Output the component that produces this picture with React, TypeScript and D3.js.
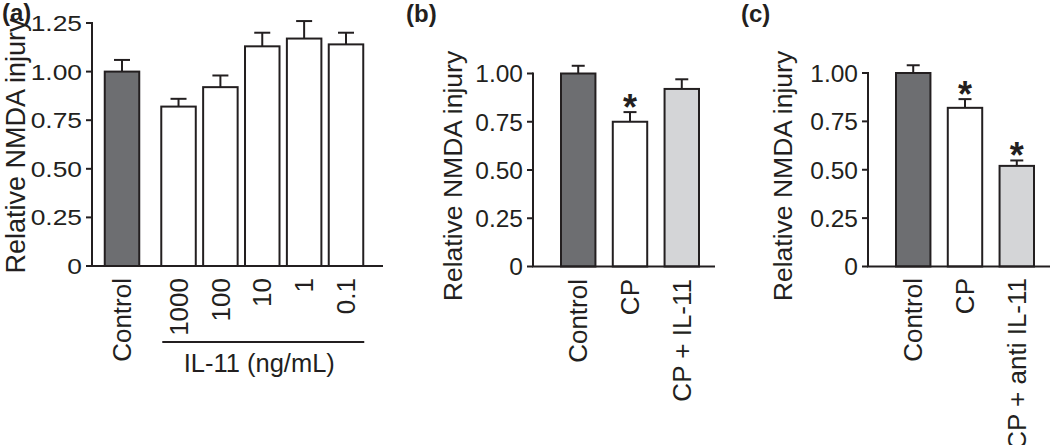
import React from "react";
import * as d3 from "d3";

// ---------- DATA ----------
const panelACategories = ["Control", "1000", "100", "10", "1", "0.1"];
const panelAValues = [1.0, 0.82, 0.92, 1.13, 1.17, 1.14];
const panelAErrors = [0.06, 0.04, 0.06, 0.07, 0.09, 0.06];
const panelAFills = ["dark", "white", "white", "white", "white", "white"];
const panelATicks = [0, 0.25, 0.5, 0.75, 1.0, 1.25];
const panelATickLabels = ["0", "0.25", "0.50", "0.75", "1.00", "1.25"];
const panelAGroupLabel = "IL-11 (ng/mL)";

const panelBCategories = ["Control", "CP", "CP + IL-11"];
const panelBValues = [1.0, 0.75, 0.92];
const panelBErrors = [0.04, 0.05, 0.05];
const panelBFills = ["dark", "white", "light"];
const panelBSignificant = [false, true, false];

const panelCCategories = ["Control", "CP", "CP + anti IL-11"];
const panelCValues = [1.0, 0.82, 0.52];
const panelCErrors = [0.04, 0.045, 0.028];
const panelCFills = ["dark", "white", "light"];
const panelCSignificant = [false, true, true];

const panelBCTicks = [0, 0.25, 0.5, 0.75, 1.0];
const panelBCTickLabels = ["0", "0.25", "0.50", "0.75", "1.00"];

const yTitle = "Relative NMDA injury";

// ---------- STYLE ----------
const FONT = "'Liberation Sans', Arial, Helvetica, sans-serif";
const TEXT = "#231f20";
const FILLS: Record<string, string> = {
  dark: "#6d6e71",
  white: "#ffffff",
  light: "#d4d5d7",
};

type PanelProps = {
  letter: string;
  letterX: number;
  letterY: number;
  axisX: number;
  axisEnd: number;
  y0: number;
  yTopPx: number;
  yMax: number;
  ticks: number[];
  tickLabels: string[];
  tickFont: number;
  tickScaleX: number;
  categories: string[];
  values: number[];
  errors: number[];
  fills: string[];
  significant?: boolean[];
  xPos: (i: number) => number;
  barWidth: number;
  capHalf: number;
  catFont: number;
  catY: number;
  titleX: number;
  titleY: number;
  titleFont: number;
  extra?: React.ReactNode;
};

function Panel(p: PanelProps) {
  const y = d3.scaleLinear().domain([0, p.yMax]).range([p.y0, p.yTopPx]);
  return (
    <g>
      <text
        x={p.letterX}
        y={p.letterY}
        fontFamily={FONT}
        fontWeight="bold"
        fontSize={24}
        fill={TEXT}
      >
        {p.letter}
      </text>
      <text
        transform={`translate(${p.titleX},${p.titleY}) rotate(-90)`}
        textAnchor="middle"
        fontFamily={FONT}
        fontSize={p.titleFont}
        fill={TEXT}
      >
        {yTitle}
      </text>
      {/* bars */}
      {p.values.map((v, i) => {
        const cx = p.xPos(i);
        const top = y(v);
        const capY = y(v + p.errors[i]);
        return (
          <g key={i}>
            <line x1={cx} x2={cx} y1={top} y2={capY} stroke={TEXT} strokeWidth={2} />
            <line
              x1={cx - p.capHalf}
              x2={cx + p.capHalf}
              y1={capY}
              y2={capY}
              stroke={TEXT}
              strokeWidth={2}
            />
            <rect
              x={cx - p.barWidth / 2}
              y={top}
              width={p.barWidth}
              height={p.y0 - top}
              fill={FILLS[p.fills[i]]}
              stroke={TEXT}
              strokeWidth={2}
            />
            {p.significant && p.significant[i] ? (
              <text
                x={cx}
                y={capY + 8}
                textAnchor="middle"
                fontFamily={FONT}
                fontWeight="bold"
                fontSize={36}
                fill={TEXT}
              >
                *
              </text>
            ) : null}
            <text
              transform={`translate(${cx},${p.catY}) rotate(-90)`}
              textAnchor="end"
              dy="0.35em"
              fontFamily={FONT}
              fontSize={p.catFont}
              fill={TEXT}
            >
              {p.categories[i]}
            </text>
          </g>
        );
      })}
      {/* axes */}
      <line
        x1={p.axisX}
        x2={p.axisX}
        y1={y(p.yMax) - 1}
        y2={p.y0}
        stroke={TEXT}
        strokeWidth={2}
      />
      <line x1={p.axisX - 1} x2={p.axisEnd} y1={p.y0} y2={p.y0} stroke={TEXT} strokeWidth={2} />
      {p.ticks.map((t, i) => (
        <g key={"t" + i}>
          <line
            x1={p.axisX - 6}
            x2={p.axisX}
            y1={y(t)}
            y2={y(t)}
            stroke={TEXT}
            strokeWidth={2}
          />
          <text
            transform={`translate(${p.axisX - 10},${y(t)}) scale(${p.tickScaleX},1)`}
            textAnchor="end"
            dy="0.36em"
            fontFamily={FONT}
            fontSize={p.tickFont}
            fill={TEXT}
          >
            {p.tickLabels[i]}
          </text>
        </g>
      ))}
      {p.extra}
    </g>
  );
}

export default function App() {
  // Panel A: control sits apart from the IL-11 dose group
  const slotA = [0, 1.35, 2.35, 3.35, 4.35, 5.35];
  const xA = d3.scaleLinear().domain([0, 5.35]).range([122, 346]);
  const barWA = 34.5;
  const groupStart = xA(slotA[1]) - barWA / 2;
  const groupEnd = xA(slotA[5]) + barWA / 2;

  const bandB = d3
    .scaleBand<string>()
    .domain(panelBCategories)
    .range([533 + 28, 715 - 16])
    .paddingInner(0.335)
    .paddingOuter(0);
  const bandC = d3
    .scaleBand<string>()
    .domain(panelCCategories)
    .range([868 + 28, 1050 - 16])
    .paddingInner(0.335)
    .paddingOuter(0);

  const groupExtra = (
    <g>
      <line
        x1={groupStart + 1}
        x2={groupEnd + 1}
        y1={342}
        y2={342}
        stroke={TEXT}
        strokeWidth={2}
      />
      <text
        x={(groupStart + groupEnd) / 2 - 3}
        y={372}
        textAnchor="middle"
        fontFamily={FONT}
        fontSize={25.5}
        fill={TEXT}
      >
        {panelAGroupLabel}
      </text>
    </g>
  );

  return (
    <svg
      width={1050}
      height={445}
      style={{ position: "absolute", left: 0, top: 0, background: "#fff" }}
    >
      <rect x={0} y={0} width={1050} height={445} fill="#fff" />
      <Panel
        letter="(a)"
        letterX={2}
        letterY={21}
        axisX={92}
        axisEnd={383}
        y0={266}
        yTopPx={23}
        yMax={1.25}
        ticks={panelATicks}
        tickLabels={panelATickLabels}
        tickFont={22}
        tickScaleX={1.2}
        categories={panelACategories}
        values={panelAValues}
        errors={panelAErrors}
        fills={panelAFills}
        xPos={(i) => xA(slotA[i])}
        barWidth={barWA}
        capHalf={8}
        catFont={26}
        catY={278}
        titleX={25}
        titleY={146}
        titleFont={27}
        extra={groupExtra}
      />
      <Panel
        letter="(b)"
        letterX={406}
        letterY={22}
        axisX={533}
        axisEnd={715}
        y0={266.5}
        yTopPx={73.5}
        yMax={1}
        ticks={panelBCTicks}
        tickLabels={panelBCTickLabels}
        tickFont={24.5}
        tickScaleX={1}
        categories={panelBCategories}
        values={panelBValues}
        errors={panelBErrors}
        fills={panelBFills}
        significant={panelBSignificant}
        xPos={(i) => (bandB(panelBCategories[i]) as number) + bandB.bandwidth() / 2}
        barWidth={bandB.bandwidth()}
        capHalf={6.5}
        catFont={26}
        catY={279}
        titleX={462}
        titleY={176}
        titleFont={26.5}
      />
      <Panel
        letter="(c)"
        letterX={741}
        letterY={22}
        axisX={868}
        axisEnd={1050}
        y0={266.5}
        yTopPx={73}
        yMax={1}
        ticks={panelBCTicks}
        tickLabels={panelBCTickLabels}
        tickFont={24.5}
        tickScaleX={1}
        categories={panelCCategories}
        values={panelCValues}
        errors={panelCErrors}
        fills={panelCFills}
        significant={panelCSignificant}
        xPos={(i) => (bandC(panelCCategories[i]) as number) + bandC.bandwidth() / 2}
        barWidth={bandC.bandwidth()}
        capHalf={6.5}
        catFont={26}
        catY={278}
        titleX={792}
        titleY={176}
        titleFont={26.5}
      />
    </svg>
  );
}
